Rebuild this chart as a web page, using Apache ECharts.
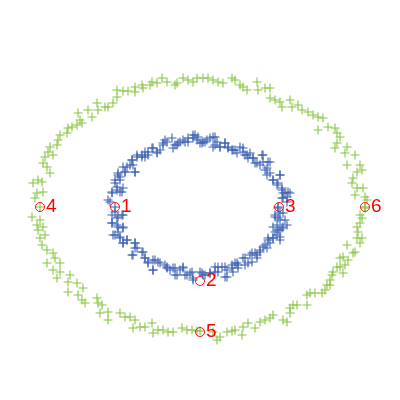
<!DOCTYPE html>
<html>
<head>
<meta charset="utf-8">
<script src="https://cdn.jsdelivr.net/npm/echarts@6/dist/echarts.min.js"></script>
<style>
  html, body { margin: 0; padding: 0; background: #fff; }
  #main { width: 400px; height: 400px; }
</style>
</head>
<body>
<div id="main"></div>
<script>
// points (x to the right, y downward)
var outerRing = [
  [40,207],[35,198],[43,192],[37,193],[33,183],[38,180],[42,182],[50,173],[47,167],[43,163],
  [45,157],[53,155],[48,152],[50,147],[57,145],[58,140],[60,135],[67,133],[68,128],[72,127],
  [77,125],[82,123],[80,120],[78,113],[88,110],[92,117],[98,110],[97,103],[105,107],[108,107],
  [113,103],[117,97],[117,90],[123,91],[128,91],[135,92],[135,87],[142,85],[143,88],[150,85],
  [152,82],[157,83],[162,78],[167,82],[175,85],[177,83],[183,78],[188,80],[193,82],[197,78],
  [203,78],[208,78],[213,80],[218,82],[223,83],[232,78],[235,80],[240,85],[243,87],[247,90],
  [257,82],[258,90],[265,88],[270,88],[270,98],[275,100],[280,102],[282,107],[290,100],[292,107],
  [298,105],[302,110],[308,112],[313,115],[318,117],[323,118],[318,130],[328,127],[335,128],[337,133],
  [340,137],[337,143],[335,148],[347,147],[345,153],[355,155],[347,165],[360,165],[357,172],[362,170],
  [353,178],[352,183],[363,188],[357,188],[355,195],[365,197],[367,200],[365,207],
  [32,217],[40,220],[37,225],[43,227],[38,230],[45,235],[40,238],[42,245],[47,250],[53,253],
  [55,258],[47,263],[60,263],[53,270],[60,272],[57,278],[70,275],[68,282],[77,283],[83,288],
  [68,292],[78,295],[82,300],[85,303],[97,298],[98,303],[102,305],[100,313],[108,312],[108,320],
  [120,313],[125,317],[130,317],[135,320],[133,328],[140,327],[145,327],[152,323],[153,333],[158,330],
  [163,330],[168,332],[173,332],[182,328],[187,330],[192,330],[197,331],[200,331],
  [213,332],[217,340],[220,337],[227,332],[232,331],[235,330],[242,335],[243,327],[248,323],[255,328],
  [260,322],[265,320],[270,318],[273,315],[283,320],[287,322],[290,313],[290,308],[293,305],[297,305],
  [307,305],[307,295],[310,293],[315,293],[322,293],[325,290],[327,285],[330,285],[330,280],[332,275],
  [333,272],[337,267],[343,273],[340,267],[345,265],[348,260],[340,258],[343,257],[353,253],[355,252],
  [347,245],[360,243],[362,238],[357,238],[358,232],[357,227],[360,223],[362,218],[360,215],[365,208]
];

var innerRing = [
  [115,207],[108,200],[112,193],[120,192],[117,187],[123,188],[115,180],[120,177],[118,173],[125,172],
  [135,172],[127,167],[133,165],[132,160],[137,157],[142,155],[145,157],[148,152],[153,148],[157,153],
  [160,150],[163,145],[167,142],[172,138],[173,148],[177,145],[180,142],[185,142],[188,138],[193,135],
  [197,140],[203,142],[207,140],[213,137],[215,145],[220,147],[225,143],[228,147],[232,150],[235,150],
  [240,147],[243,152],[247,155],[250,153],[253,158],[255,163],[262,155],[263,162],[260,165],[268,162],
  [267,168],[270,173],[280,175],[273,180],[278,183],[282,188],[288,192],[283,193],[287,197],[282,198],
  [278,207],[115,212],[118,217],[123,215],[112,223],[117,225],[123,227],[118,232],[115,235],[120,238],
  [127,240],[123,243],[135,243],[135,248],[133,255],[143,252],[145,258],[148,262],[153,260],[153,270],
  [158,262],[165,265],[167,268],[173,268],[175,275],[180,270],[185,275],[183,267],[190,273],[193,278],
  [202,273],[205,275],[210,273],[215,267],[218,272],[222,267],[225,277],[227,270],[232,265],[233,272],
  [237,263],[238,268],[243,258],[245,265],[250,255],[252,262],[255,253],[257,258],[260,252],[263,247],
  [267,248],[270,243],[268,238],[273,238],[277,235],[280,237],[278,230],[273,227],[282,228],[287,225],
  [285,220],[278,218],[280,213],[275,215],
  [110,202],[112,192],[117,190],[122,192],[115,183],[120,180],[118,175],[125,172],[123,167],[130,165],
  [135,172],[132,160],[137,155],[142,157],[145,152],[148,155],[152,148],[157,152],[163,143],[165,140],
  [175,145],[178,143],[183,140],[188,142],[193,138],[195,135],[202,143],
  [198,137],[200,143],[205,142],[210,138],[215,137],[217,142],[213,147],[220,147],[225,143],[228,148],
  [233,150],[237,153],[243,148],[245,155],[248,158],[253,158],[257,163],[263,155],[265,170],[270,162],
  [267,175],[273,180],[280,175],[277,185],[282,190],[285,193],[290,193],[283,198],[287,202],
  [112,215],[117,218],[122,215],[112,223],[118,227],[123,228],[113,235],[120,237],[127,240],[123,243],
  [135,243],[137,248],[132,255],[142,252],[145,258],[148,263],[155,260],[153,270],[160,263],[167,267],
  [170,270],[175,268],[177,275],[183,268],[187,275],[192,272],[193,280],
  [200,272],[203,275],[210,273],[215,272],[218,267],[225,267],[227,277],[232,268],[235,263],[238,265],
  [245,258],[248,263],[252,253],[257,255],[260,250],[265,245],[268,240],[273,238],[280,240],[275,232],
  [280,230],[283,227],[277,225],[280,220],[275,217],[283,213],[278,208]
];

var markedLabels = ['1', '2', '3', '4', '5', '6'];
var markedPoints = [[115,207],[200,281],[279,207],[40,207],[200,332],[365,207]];

var plusPath = 'path://M4.4,0h1.2v4.4h4.4v1.2h-4.4v4.4h-1.2v-4.4h-4.4v-1.2h4.4z';

var myChart = echarts.init(document.getElementById('main'));

var option = {
  animation: false,
  grid: { left: 0, right: 0, top: 0, bottom: 0 },
  xAxis: { type: 'value', min: 0, max: 400, show: false },
  yAxis: { type: 'value', min: 0, max: 400, inverse: true, show: false },
  series: [
    {
      type: 'scatter',
      data: outerRing,
      symbol: plusPath,
      symbolSize: 9,
      itemStyle: { color: '#86c440', opacity: 1 }
    },
    {
      type: 'scatter',
      data: innerRing,
      symbol: plusPath,
      symbolSize: 9,
      itemStyle: { color: '#3a60b2', opacity: 1 }
    },
    {
      type: 'scatter',
      data: markedPoints.map(function (p, i) { return { value: p, name: markedLabels[i] }; }),
      symbol: 'circle',
      symbolSize: 9,
      itemStyle: { color: 'rgba(0,0,0,0)', borderColor: '#ff1010', borderWidth: 1, opacity: 1 },
      label: {
        show: true,
        position: 'right',
        distance: 1,
        formatter: '{b}',
        color: '#ff0000',
        fontSize: 19,
        fontFamily: 'Liberation Sans'
      },
      z: 5
    }
  ]
};

myChart.setOption(option);
</script>
</body>
</html>
